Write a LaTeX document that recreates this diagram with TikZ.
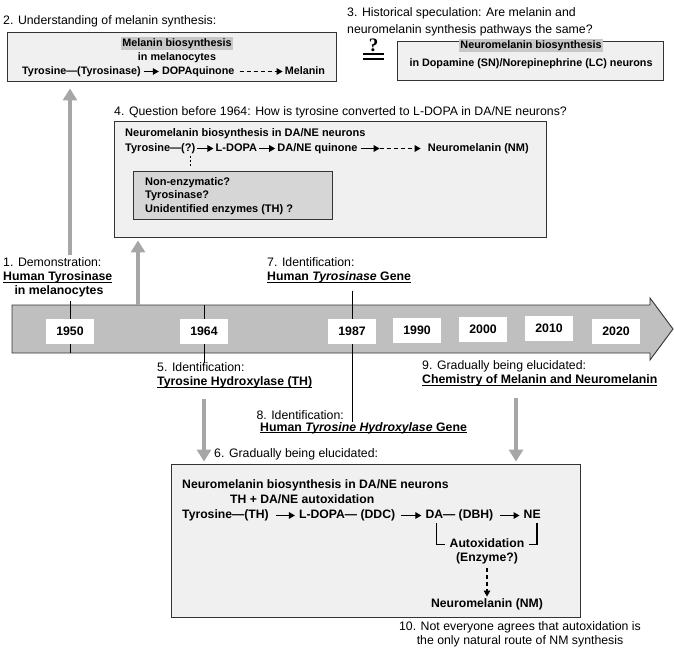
\documentclass[tikz,border=0pt]{standalone}
\usepackage{fontspec}
\setmainfont{Liberation Sans}
\newfontfamily\qfont{Liberation Serif}
\usetikzlibrary{arrows.meta, positioning, backgrounds, calc}
\tikzstyle{panel} = [rectangle, draw=black!80, fill=black!6, line width=0.9pt, inner sep=0pt]
\tikzstyle{subpanel} = [rectangle, draw=black!80, fill=black!16, line width=0.9pt, inner sep=0pt]
\tikzstyle{lbl} = [inner sep=0pt, anchor=west, font=\fontsize{12.3}{14}\selectfont, text height=9pt, text depth=2.6pt]
\tikzstyle{blbl} = [lbl, font=\fontsize{12.3}{14}\selectfont\bfseries]
\tikzstyle{smalltxt} = [inner sep=0pt, font=\fontsize{10.8}{12.5}\selectfont\bfseries, text height=7.8pt, text depth=2.2pt]
\tikzstyle{midtxt} = [inner sep=0pt, font=\fontsize{11}{13.5}\selectfont\bfseries, text height=8pt, text depth=2.3pt]
\tikzstyle{optlist} = [inner sep=0pt, align=left, anchor=west, font=\fontsize{11}{13.5}\selectfont\bfseries]
\tikzstyle{bigtxt} = [inner sep=0pt, font=\fontsize{12.2}{14}\selectfont\bfseries, text height=8.8pt, text depth=2.6pt]
\tikzstyle{hilite} = [fill=black!22, inner xsep=1.5pt, inner ysep=1.5pt]
\tikzstyle{yearbox} = [rectangle, fill=white, minimum width=48pt, minimum height=25pt, font=\fontsize{12.3}{14}\selectfont\bfseries]
\tikzstyle{timeline} = [draw=black!80, fill=black!25, line width=0.9pt]
\tikzstyle{graylink} = [draw=black!35, line width=4.5pt, -{Triangle[length=12pt,width=14pt]}]
\tikzstyle{tick} = [draw=black, line width=0.8pt]
\tikzstyle{rxn} = [draw=black, line width=1.3pt, -{Triangle[length=6pt,width=6.5pt]}]
\tikzstyle{rxndash} = [rxn, dash pattern=on 4pt off 3pt]
\tikzstyle{bracket} = [draw=black, line width=1.6pt]
\tikzstyle{qdots} = [draw=black, line width=1.8pt, dash pattern=on 1.8pt off 2.2pt]
\tikzstyle{eqbar} = [draw=black, line width=2pt]
\newcommand{\ulbox}[1]{\setbox0=\hbox{#1}\rlap{\rule[-1.9pt]{\wd0}{0.9pt}}\box0}

\begin{document}
\begin{tikzpicture}[x=1pt, y=-1pt]
\useasboundingbox (0,0) rectangle (674,652);

% 2. Melanin
\node (lab2) [lbl] at (3,21.5) {2. Understanding of melanin synthesis:};
\node (melbox) [panel, minimum width=329pt, minimum height=49pt] at (171.5,56.5) {};
\node (melhead) [smalltxt, hilite] at (177,44) {Melanin biosynthesis};
\node (melsub) [smalltxt] at (177,57.5) {in melanocytes};
\node (tyr1) [smalltxt, anchor=west] at (22,71.5) {Tyrosine—(Tyrosinase)};
\node (dopaq) [smalltxt, right=21pt of tyr1] {DOPAquinone};
\node (melanin) [smalltxt, right=50pt of dopaq] {Melanin};
\draw [rxn, shorten <=3pt, shorten >=3pt] (tyr1) -- (dopaq);
\draw [rxndash, shorten <=5pt, shorten >=2pt] (dopaq) -- (melanin);

% 3. Speculation
\node (lab3a) [lbl] at (347,13.5) {3. Historical speculation: Are melanin and};
\node (lab3b) [lbl] at (347,30) {neuromelanin synthesis pathways the same?};
\node (qmark) [inner sep=0pt, font=\qfont\bfseries\fontsize{19}{19}\selectfont] at (373.5,45) {?};
\draw [eqbar] (363,54) -- (384,54);
\draw [eqbar] (363,59) -- (384,59);
\node (nmbox) [panel, minimum width=266pt, minimum height=39pt] at (530,60.5) {};
\node (nmhead) [smalltxt, hilite] at (531,46) {Neuromelanin biosynthesis};
\node (nmsub) [smalltxt] at (531,63.5) {in Dopamine (SN)/Norepinephrine (LC) neurons};

% 4. Question before 1964
\node (lab4) [lbl] at (114,112.5) {4. Question before 1964: How is tyrosine converted to L-DOPA in DA/NE neurons?};
\node (qbox) [panel, minimum width=432pt, minimum height=116pt] at (330,179) {};
\node (qhead) [midtxt, anchor=west] at (125,134) {Neuromelanin biosynthesis in DA/NE neurons};
\node (tyrq) [midtxt, anchor=west] at (125,148.5) {Tyrosine—(?)};
\node (ldopa) [midtxt, right=20pt of tyrq] {L-DOPA};
\node (daneq) [midtxt, right=20pt of ldopa] {DA/NE quinone};
\coordinate (qmid) at ($(daneq.east)+(22,0)$);
\node (nmq) [midtxt, right=70pt of daneq] {Neuromelanin (NM)};
\draw [rxn, shorten <=2pt, shorten >=2pt] (tyrq) -- (ldopa);
\draw [rxn, shorten <=2pt, shorten >=2pt] (ldopa) -- (daneq);
\draw [rxn, shorten <=3pt] (daneq) -- (qmid);
\draw [rxndash, shorten >=7pt] (qmid) -- (nmq);
\node (optbox) [subpanel, minimum width=199pt, minimum height=48pt] at (232.5,195) {};
\node (opts) [optlist] at (145,196) {Non-enzymatic?\\Tyrosinase?\\Unidentified enzymes (TH) ?};
\draw [qdots, shorten <=2pt, shorten >=3pt] ([xshift=-5pt]tyrq.south east) -- ([xshift=-5pt]tyrq.south east |- optbox.north);

% Timeline labels above
\node (lab1a) [lbl] at (3,263.5) {1. Demonstration:};
\node (lab1b) [blbl] at (3,277.5) {\ulbox{Human Tyrosinase}};
\node (lab1c) [blbl, anchor=center] at (59,291.5) {in melanocytes};
\node (lab7a) [lbl] at (267,263.5) {7. Identification:};
\node (lab7b) [blbl] at (267,277.5) {\ulbox{Human \textit{Tyrosinase} Gene}};

% Years
\node (y1950) [yearbox] at (70,331) {1950};
\node (y1964) [yearbox] at (204,331) {1964};
\node (y1987) [yearbox] at (352,331) {1987};
\node (y1990) [yearbox] at (417,330.5) {1990};
\node (y2000) [yearbox] at (483,329.5) {2000};
\node (y2010) [yearbox] at (549,328.5) {2010};
\node (y2020) [yearbox] at (616,331) {2020};

% Timeline labels below
\node (lab5a) [lbl] at (157,368.5) {5. Identification:};
\node (lab5b) [blbl] at (157,382.5) {\ulbox{Tyrosine Hydroxylase (TH)}};
\node (lab8a) [lbl, anchor=east] at (344,416.5) {8. Identification:};
\node (lab8b) [blbl] at (260,428) {\ulbox{Human \textit{Tyrosine Hydroxylase} Gene}};
\node (lab9a) [lbl] at (422,366.5) {9. Gradually being elucidated:};
\node (lab9b) [blbl] at (422,380.5) {\ulbox{Chemistry of Melanin and Neuromelanin}};

% 6. Current view
\node (lab6) [lbl] at (214,454.5) {6. Gradually being elucidated:};
\node (nm6box) [panel, minimum width=409pt, minimum height=153pt] at (375.5,540.5) {};
\node (hd6) [bigtxt, anchor=west] at (182,485.5) {Neuromelanin biosynthesis in DA/NE neurons};
\node (th6) [bigtxt, anchor=west] at (230,500.5) {TH + DA/NE autoxidation};
\node (tyr6) [bigtxt, anchor=west] at (182,515.5) {Tyrosine—(TH)};
\node (ldopa6) [bigtxt, right=30pt of tyr6] {L-DOPA— (DDC)};
\node (da6) [bigtxt, right=30pt of ldopa6] {DA— (DBH)};
\node (ne6) [bigtxt, right=30pt of da6] {NE};
\node (autox) [bigtxt] at (487,544.5) {Autoxidation};
\node (enz) [bigtxt] at (487,558.5) {(Enzyme?)};
\node (nm6) [bigtxt] at (487,604.5) {Neuromelanin (NM)};
\draw [rxn, shorten <=7pt, shorten >=4pt] (tyr6) -- (ldopa6);
\draw [rxn, shorten <=6pt, shorten >=4pt] (ldopa6) -- (da6);
\draw [rxn, shorten <=6pt, shorten >=4pt] (da6) -- (ne6);
\draw [bracket, shorten >=5pt] ($(da6.south west)+(11,2)$) |- (autox.west);
\draw [bracket, shorten >=5pt] ($(ne6.south east)+(-4,2)$) |- (autox.east);
\draw [rxndash, shorten <=4pt, shorten >=2pt] (enz) -- (nm6);

% 10. Note
\node (lab10a) [lbl, anchor=center] at (520,627.5) {10. Not everyone agrees that autoxidation is};
\node (lab10b) [lbl, anchor=center] at (520,641.5) {the only natural route of NM synthesis};

% Timeline and ticks
\begin{scope}[on background layer]
\draw [timeline] (12,305) coordinate (tltop) -- (650,305) -- (650,298) -- (673,329) -- (650,360) -- (650,353) coordinate (tlbot) -- (12,353) -- cycle;
\draw [tick, shorten <=3pt] (lab1c.south -| y1950) -- (tlbot -| y1950);
\draw [tick] (tltop -| y1964) -- (lab5a.north -| y1964);
\draw [tick, shorten <=7pt] (lab7b.south -| y1987) -- (lab8b.north -| y1987);
\end{scope}

% Gray arrows
\coordinate (a2x) at (138,0);
\coordinate (a4x) at (516,0);
\draw [graylink, shorten <=3pt, shorten >=7pt] (lab1a.north -| y1950) -- (melbox.south -| y1950);
\draw [graylink, shorten >=3pt] (tltop -| a2x) -- (qbox.south -| a2x);
\draw [graylink, shorten <=10pt, shorten >=2pt] (lab5b.south -| y1964) -- (nm6box.north -| y1964);
\draw [graylink, shorten <=11pt, shorten >=2pt] (lab9b.south -| a4x) -- (nm6box.north -| a4x);

\end{tikzpicture}
\end{document}
